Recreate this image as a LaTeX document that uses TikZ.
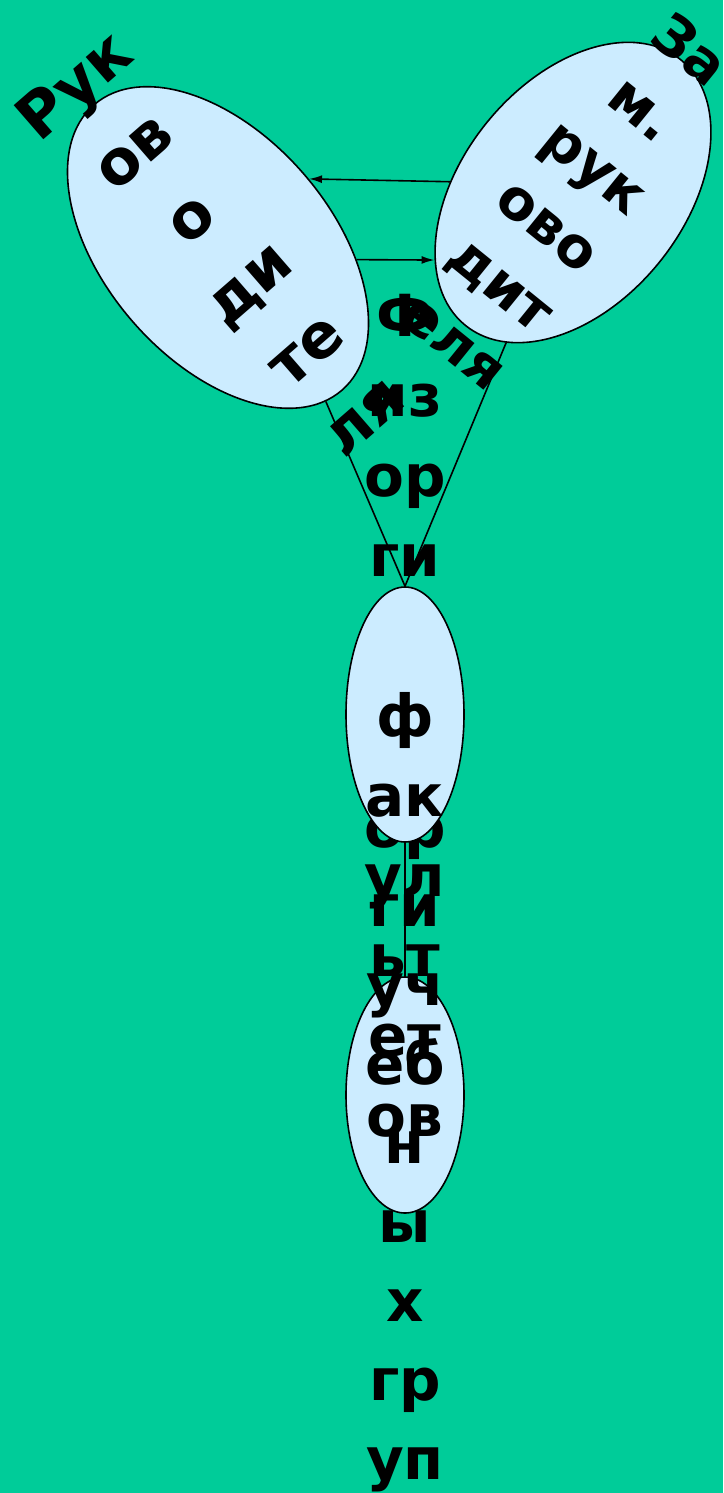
\documentclass[tikz,border=0pt]{standalone}
\usepackage{fontspec}
\setmainfont{DejaVu Sans}
\usepackage{tikz}
\usetikzlibrary{arrows.meta,shapes.geometric}
\usepackage{xcolor}
\definecolor{meadow}{RGB}{0,204,153}
\definecolor{paleblue}{RGB}{204,236,255}

\begin{document}
\begin{tikzpicture}[x=1pt, y=-1pt, line width=1.6pt,
    >={Latex[length=13pt,width=8pt]},
    oval/.style={ellipse, draw=black, fill=paleblue, inner sep=0pt},
    frag/.style={font=\fontsize{#1}{#1}\selectfont\bfseries,
      inner sep=0pt, text height=32pt, text depth=0pt}]
    % ── Canvas ──────────────────────────────────────────────────────
    \useasboundingbox (0,0) rectangle (723,1493);
    \fill[meadow] (0,0) rectangle (723,1493);

    % Head (tilted, top left)
    \node[oval, rotate=41, minimum width=226pt, minimum height=378pt]
      (ruk) at (218,247.5) {};
    \foreach \txt [count=\i] in {Рук,ов,о,ди,те,ля}
      \node[frag=62, rotate=41] (ruk-\i)
        at ({222+57.7*(\i-3.5)},{254+66*(\i-3.5)}) {\txt};

    % Deputy (tilted, top right)
    \node[oval, rotate=-39, minimum width=222pt, minimum height=342pt]
      (zam) at (573,192.5) {};
    \foreach \txt [count=\i] in {За,м.,рук,ово,дит,еля}
      \node[frag=56, rotate=-39] (zam-\i)
        at ({570-47*(\i-3.5)},{198.5+58.3*(\i-3.5)}) {\txt};

    % Arrows between head and deputy
    \draw[->] (zam.-146) -- (ruk.-4);
    \draw[->] (ruk.-46) -- (zam.-115);

    % Group organisers (bottom) -- text runs out of the oval
    \node[oval, minimum width=118pt, minimum height=236pt]
      (grp) at (405,1095) {};
    \foreach \txt [count=\i] in {Ф,из,ор,ги,уч,еб,н,ы,х,гр,уп}
      \node[frag=58] (grp-\i) at (405,{674+78.9*(\i-1)}) {\txt};

    % Faculty organisers (middle), drawn over the group text
    \node[oval, minimum width=118pt, minimum height=255pt]
      (fac) at (405,714.5) {};
    \foreach \txt/\k in {Ф/0,из/1,ор/2,ги/3,ф/5,ак/6,ул/7,ьт/8,ет/9,ов/10}
      \node[frag=58] (fac-\k) at (405,{320+80*\k}) {\txt};

    % Links
    \draw (ruk.-96) -- (fac.north);
    \draw (zam.-75) -- (fac.north);
    \draw (fac.south) -- (grp.north);
  \end{tikzpicture}
\end{document}
